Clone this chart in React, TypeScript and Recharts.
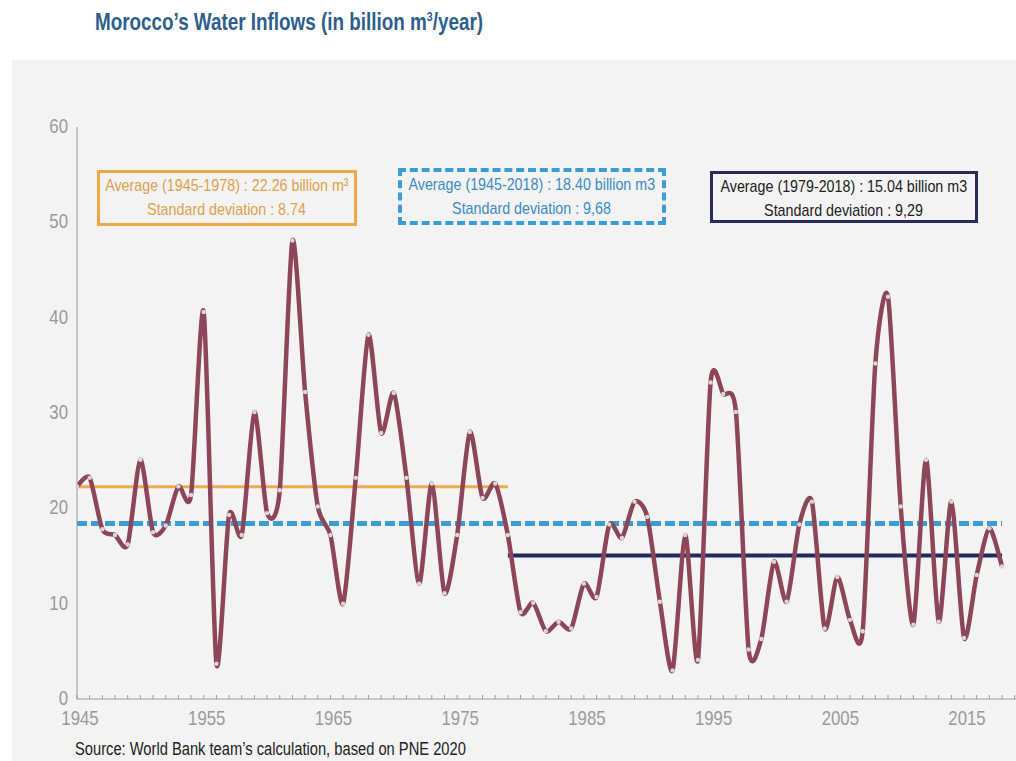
import { LineChart, Line, XAxis, YAxis } from 'recharts'

// water inflows, billion m3 per year
const years = [
  1945, 1946, 1947, 1948, 1949, 1950, 1951, 1952, 1953, 1954,
  1955, 1956, 1957, 1958, 1959, 1960, 1961, 1962, 1963, 1964,
  1965, 1966, 1967, 1968, 1969, 1970, 1971, 1972, 1973, 1974,
  1975, 1976, 1977, 1978, 1979, 1980, 1981, 1982, 1983, 1984,
  1985, 1986, 1987, 1988, 1989, 1990, 1991, 1992, 1993, 1994,
  1995, 1996, 1997, 1998, 1999, 2000, 2001, 2002, 2003, 2004,
  2005, 2006, 2007, 2008, 2009, 2010, 2011, 2012, 2013, 2014,
  2015, 2016, 2017, 2018,
]
const inflows = [
  22.3, 23.2, 17.8, 17.2, 16.2, 25.1, 17.5, 18.2, 22.3, 21.4,
  40.6, 3.7, 19.3, 17.2, 30.1, 19.5, 21.9, 48.1, 32.2, 20.2,
  17.2, 10.0, 23.2, 38.2, 27.9, 32.1, 23.2, 12.1, 22.6, 11.1,
  17.2, 28.0, 21.1, 22.6, 17.2, 9.1, 10.1, 7.1, 8.1, 7.4,
  12.1, 10.7, 18.3, 16.9, 20.7, 19.1, 10.2, 3.0, 17.2, 4.1,
  33.2, 32.0, 30.1, 5.2, 6.3, 14.4, 10.2, 18.3, 20.7, 7.4,
  12.8, 8.3, 7.1, 35.2, 42.2, 20.2, 7.8, 25.1, 8.1, 20.7,
  6.4, 13.0, 17.9, 13.9,
]

const AVG_EARLY = 22.26 // 1945-1978
const AVG_ALL = 18.40   // 1945-2018
const AVG_LATE = 15.04  // 1979-2018
const SPLIT_YEAR = 1979

const yTicks = [0, 10, 20, 30, 40, 50, 60]
const labelYears = [1945, 1955, 1965, 1975, 1985, 1995, 2005, 2015]
const minorTicks = [...years, 2019]

const data = years.map((year, i) => ({
  year,
  inflow: inflows[i],
  avgEarly: year <= SPLIT_YEAR ? AVG_EARLY : null,
  avgLate: year >= SPLIT_YEAR ? AVG_LATE : null,
  avgAll: AVG_ALL,
}))

// no narrow font installed, so squeeze Liberation Sans horizontally
const FONT = "'Liberation Sans', Arial, sans-serif"
const SQUEEZE = 0.84
const AXIS = '#9a9a9a'

// Catmull-Rom style smoothing, like the spreadsheet's smoothed line
function smoothCurve(context: any) {
  let pts: [number, number][] = []
  return {
    areaStart() {},
    areaEnd() {},
    lineStart() { pts = [] },
    lineEnd() {
      if (!pts.length) return
      context.moveTo(pts[0][0], pts[0][1])
      const t = 0.12
      for (let i = 0; i < pts.length - 1; i++) {
        const p0 = pts[i - 1] || pts[i]
        const p1 = pts[i]
        const p2 = pts[i + 1]
        const p3 = pts[i + 2] || p2
        context.bezierCurveTo(
          p1[0] + (p2[0] - p0[0]) * t, p1[1] + (p2[1] - p0[1]) * t,
          p2[0] - (p3[0] - p1[0]) * t, p2[1] - (p3[1] - p1[1]) * t,
          p2[0], p2[1],
        )
      }
    },
    point(x: number, y: number) { pts.push([+x, +y]) },
  }
}

const YearTick = ({ x, y, payload }: any) => {
  const yr = payload.value
  return (
    <g>
      <line x1={x} x2={x} y1={y} y2={y - 4} stroke={AXIS} strokeWidth={1} />
      {labelYears.includes(yr) && (
        <text
          transform={`translate(${x + 3},${y + 26}) scale(${SQUEEZE},1)`}
          textAnchor="middle" fill={AXIS} fontSize={20} fontFamily={FONT}
        >
          {yr}
        </text>
      )}
    </g>
  )
}

const ValueTick = ({ x, y, payload }: any) => (
  <text
    transform={`translate(${x},${y + 6}) scale(${SQUEEZE},1)`}
    textAnchor="end" fill={AXIS} fontSize={20} fontFamily={FONT}
  >
    {payload.value}
  </text>
)

const squeezed = (extra?: React.CSSProperties): React.CSSProperties => ({
  display: 'inline-block',
  whiteSpace: 'nowrap',
  transform: `scaleX(${SQUEEZE})`,
  ...extra,
})

const boxStyle: React.CSSProperties = {
  position: 'absolute',
  boxSizing: 'border-box',
  textAlign: 'center',
  fontFamily: FONT,
  fontSize: 17,
  lineHeight: '24px',
  paddingTop: 1,
  display: 'flex',
  flexDirection: 'column',
  alignItems: 'center',
}

function StatBox({ left, top, width, height, border, color, lines }: any) {
  return (
    <div style={{ ...boxStyle, left, top, width, height, border, color }}>
      {lines.map((l: string) => <span key={l} style={squeezed()}>{l}</span>)}
    </div>
  )
}

export default function App() {
  return (
    <div style={{ position: 'absolute', left: 0, top: 0, width: 1016, height: 761, background: '#fff', overflow: 'hidden' }}>
      <div style={{ position: 'absolute', left: 12, top: 60, width: 1004, height: 701, background: '#f3f3f3' }} />

      <div style={{ position: 'absolute', left: 95, top: 9, fontFamily: FONT, fontSize: 23, fontWeight: 'bold', color: '#2e5e8c' }}>
        <span style={squeezed({ transform: 'scaleX(0.82)', transformOrigin: 'left center' })}>
          Morocco’s Water Inflows (in billion m<sup style={{ fontSize: 13 }}>3</sup>/year)
        </span>
      </div>

      <div style={{ position: 'absolute', left: 0, top: 0 }}>
        <LineChart width={1016} height={761} data={data} margin={{ top: 127, right: 0, bottom: 22, left: 17 }}>
          <XAxis
            type="number"
            dataKey="year"
            domain={[1945, 2019.1]}
            ticks={minorTicks}
            interval={0}
            allowDataOverflow
            tickLine={false}
            tickSize={0}
            tickMargin={0}
            height={40}
            axisLine={{ stroke: AXIS }}
            tick={<YearTick />}
          />
          <YAxis
            domain={[0, 60]}
            ticks={yTicks}
            interval={0}
            width={60}
            tickLine={false}
            tickSize={0}
            tickMargin={9}
            axisLine={{ stroke: AXIS }}
            tick={<ValueTick />}
          />
          <Line dataKey="avgEarly" stroke="#f0ab4c" strokeWidth={3} dot={false} activeDot={false} isAnimationActive={false} />
          <Line dataKey="avgLate" stroke="#232a5e" strokeWidth={4} dot={false} activeDot={false} isAnimationActive={false} />
          <Line dataKey="avgAll" stroke="#3a9dd6" strokeWidth={5} strokeDasharray="10 4" dot={false} activeDot={false} isAnimationActive={false} />
          <Line
            dataKey="inflow"
            type={smoothCurve as any}
            stroke="#8c4657"
            strokeWidth={4.5}
            dot={{ r: 2.2, fill: '#dcd6d7', stroke: 'none' }}
            activeDot={false}
            isAnimationActive={false}
          />
        </LineChart>
      </div>

      <StatBox
        left={97} top={170} width={260} height={56}
        border="3px solid #eda848" color="#dfa04e"
        lines={['Average (1945-1978) : 22.26 billion m³', 'Standard deviation : 8.74']}
      />
      <StatBox
        left={398} top={168} width={268} height={57}
        border="4px dashed #3a9dd6" color="#3a8cc4"
        lines={['Average (1945-2018) : 18.40 billion m3', 'Standard deviation : 9,68']}
      />
      <StatBox
        left={710} top={171} width={268} height={52}
        border="3px solid #262b5a" color="#222"
        lines={['Average (1979-2018) : 15.04 billion m3', 'Standard deviation : 9,29']}
      />

      <div style={{ position: 'absolute', left: 75, top: 739, fontFamily: FONT, fontSize: 17.5, color: '#222' }}>
        <span style={squeezed({ transformOrigin: 'left center' })}>
          Source: World Bank team’s calculation, based on PNE 2020
        </span>
      </div>
    </div>
  )
}
